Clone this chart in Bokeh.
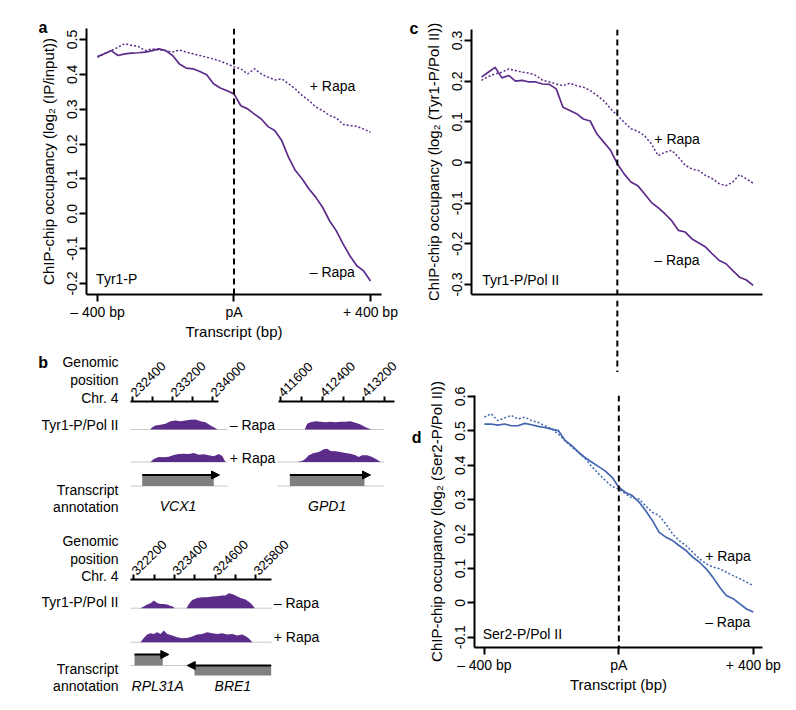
import math
from bokeh.plotting import figure
from bokeh.models import Range1d, LinearAxis, FixedTicker, Span, Title, Arrow, NormalHead
from bokeh.layouts import row, column
from bokeh.core.properties import value
from bokeh.embed import file_html
from bokeh.resources import INLINE

FONT = "Liberation Sans"
PURPLE = "#5b2c8a"
BLUE = "#4265b0"
GRAY_RECT = "#808080"
GRAY_LINE = "#c8c8c8"

# ---------------- metagene profiles (a, c, d) ----------------
transcript_bp = [-400, -380, -360, -340, -320, -300, -280, -260, -240, -220, -200,
                 -180, -160, -140, -120, -100, -80, -60, -40, -20, 0,
                 20, 40, 60, 80, 100, 120, 140, 160, 180, 200,
                 220, 240, 260, 280, 300, 320, 340, 360, 380, 400]

a_minus = [0.451, 0.459, 0.468, 0.454, 0.459, 0.461, 0.462, 0.464, 0.468, 0.473, 0.468,
           0.454, 0.430, 0.418, 0.416, 0.408, 0.399, 0.373, 0.361, 0.353, 0.344,
           0.310, 0.301, 0.286, 0.272, 0.250, 0.238, 0.210, 0.162, 0.124, 0.100,
           0.071, 0.047, 0.018, -0.020, -0.049, -0.087, -0.121, -0.149, -0.164, -0.193]
a_plus = [0.449, 0.459, 0.468, 0.478, 0.488, 0.483, 0.480, 0.468, 0.473, 0.470, 0.468,
          0.464, 0.470, 0.464, 0.459, 0.454, 0.449, 0.444, 0.438, 0.430, 0.422,
          0.416, 0.401, 0.416, 0.401, 0.392, 0.384, 0.387, 0.373, 0.358, 0.339,
          0.325, 0.306, 0.296, 0.282, 0.275, 0.256, 0.253, 0.251, 0.243, 0.234]

c_minus = [0.210, 0.222, 0.234, 0.208, 0.214, 0.200, 0.202, 0.198, 0.198, 0.193, 0.192,
           0.181, 0.136, 0.128, 0.120, 0.107, 0.102, 0.070, 0.050, 0.030, -0.003,
           -0.028, -0.048, -0.057, -0.077, -0.098, -0.111, -0.126, -0.143, -0.167, -0.171,
           -0.188, -0.198, -0.208, -0.225, -0.241, -0.249, -0.266, -0.282, -0.289, -0.302]
c_plus = [0.202, 0.211, 0.218, 0.222, 0.230, 0.226, 0.222, 0.220, 0.214, 0.202, 0.198,
          0.193, 0.189, 0.195, 0.189, 0.185, 0.177, 0.165, 0.152, 0.132, 0.116,
          0.099, 0.083, 0.077, 0.066, 0.046, 0.017, 0.025, 0.030, 0.013, -0.007,
          -0.016, -0.020, -0.032, -0.040, -0.052, -0.057, -0.048, -0.030, -0.040, -0.051]

d_minus = [0.520, 0.520, 0.517, 0.520, 0.515, 0.515, 0.522, 0.518, 0.513, 0.510, 0.505,
           0.501, 0.472, 0.457, 0.438, 0.422, 0.409, 0.396, 0.383, 0.365, 0.336,
           0.321, 0.312, 0.293, 0.268, 0.239, 0.205, 0.191, 0.181, 0.166, 0.152,
           0.133, 0.118, 0.099, 0.074, 0.045, 0.021, 0.012, -0.003, -0.018, -0.027]
d_plus = [0.540, 0.550, 0.530, 0.538, 0.545, 0.535, 0.540, 0.530, 0.525, 0.515, 0.506,
          0.491, 0.472, 0.453, 0.438, 0.419, 0.396, 0.375, 0.356, 0.338, 0.331,
          0.317, 0.305, 0.302, 0.282, 0.263, 0.254, 0.229, 0.200, 0.181, 0.166,
          0.147, 0.128, 0.113, 0.104, 0.099, 0.089, 0.079, 0.070, 0.060, 0.050]

x_ticks = [-400, 0, 400]
x_tick_labels = ["\u2013 400 bp", "pA", "+ 400 bp"]

a_yticks = [0.5, 0.4, 0.3, 0.2, 0.1, 0.0, -0.1, -0.2]
a_ylabels = ["0.5", "0.4", "0.3", "0.2", "0.1", "0.0", "-0.1", "-0.2"]
c_yticks = [0.3, 0.2, 0.1, 0.0, -0.1, -0.2, -0.3]
c_ylabels = ["0.3", "0.2", "0.1", "0", "-0.1", "-0.2", "-0.3"]
d_yticks = [0.6, 0.5, 0.4, 0.3, 0.2, 0.1, 0.0, -0.1]
d_ylabels = ["0.6", "0.5", "0.4", "0.3", "0.2", "0.1", "0", "-0.1"]

# ---------------- genome browser tracks (b) ----------------
l1_ticks = [232400, 232800, 233200, 233600, 234000]
l1_labeled = [232400, 233200, 234000]
l1_pos_minus = [232750, 232788, 232854, 232954, 233054, 233154, 233254, 233354, 233454,
                233554, 233654, 233754, 233854, 233954, 234054, 234100]
l1_sig_minus = [0, 2.3, 4, 4.7, 5.7, 8.3, 9, 8.3, 9, 9.7, 10, 8.3, 7.3, 4, 1.3, 0]
l1_pos_plus = [232754, 232820, 232920, 233020, 233120, 233220, 233320, 233420, 233520,
               233620, 233720, 233820, 233920, 234020, 234120, 234188, 234254]
l1_sig_plus = [0, 3, 5, 4.7, 5.3, 7, 8, 8.3, 8, 9, 7.3, 7.7, 6.7, 5.7, 8, 6, 0]

l2_ticks = [411600, 412000, 412400, 412800, 413200, 413600]
l2_labeled = [411600, 412400, 413200]
l2_pos_minus = [412067, 412112, 412176, 412272, 412368, 412464, 412560, 412656, 412752,
                412848, 412944, 413040, 413136, 413232, 413296, 413347]
l2_sig_minus = [0, 5.7, 7.3, 8.3, 7.7, 7.3, 7.7, 7.3, 7.7, 7.7, 8.3, 6.7, 5, 2.3, 1, 0]
l2_pos_plus = [411920, 412016, 412080, 412144, 412240, 412336, 412432, 412496, 412560,
               412656, 412752, 412848, 412944, 413040, 413104, 413168, 413264, 413360,
               413456, 413520]
l2_sig_plus = [0, 1, 3.3, 6.7, 9, 10, 12.7, 13.3, 11, 10.7, 10, 9, 8.3, 6.7, 5, 6.7,
               6.7, 5, 2.3, 0]

l3_ticks = [322200, 322800, 323400, 324000, 324600, 325200, 325800]
l3_labeled = [322200, 323400, 324600, 325800]
l3_pos_minus = [322398, 322495, 322595, 322693, 322790, 322890, 322988, 323085, 323185,
                323283, 323351, 323410, 323755, 323823, 323923, 324070, 324218, 324365,
                324513, 324660, 324808, 324905, 325003, 325103, 325200, 325348, 325495,
                325613, 325711, 325770]
l3_sig_minus = [0, 1.7, 3.7, 5, 7.7, 5.3, 4.3, 4.3, 3.7, 2.3, 1.7, 0, 0, 4.3, 8.3, 10.3,
                11, 11, 11.7, 12, 12.7, 12.7, 15, 14.3, 12.7, 10.3, 8.7, 6, 2.7, 0]
l3_pos_plus = [322398, 322495, 322595, 322693, 322790, 322890, 322988, 323085, 323185,
               323333, 323480, 323628, 323775, 323923, 324070, 324218, 324365, 324513,
               324660, 324808, 324955, 325103, 325250, 325398, 325516, 325613, 325693]
l3_sig_plus = [0, 4.3, 7.7, 9, 8.3, 10, 8.3, 11.7, 8.3, 6.7, 5, 4, 4.3, 5.7, 7.7, 8.3,
               10, 9, 8.3, 9, 7.7, 8.3, 6.7, 7.7, 5.7, 3.3, 0]

# genes: name, locus, start, end, strand, arrow tip
gene_names = ["VCX1", "GPD1", "RPL31A", "BRE1"]
gene_locus = ["l1", "l2", "l3", "l3"]
gene_start = [232588, 411779, 322221, 323991]
gene_end = [234020, 413213, 323056, 326253]
gene_strand = ["+", "+", "+", "-"]
gene_arrow_tip = [234134, 413328, 323233, 323775]


# ---------------- helpers ----------------
def base_fig(width, height, xr, yr, left, right, top, bottom):
    p = figure(width=width, height=height, x_range=xr, y_range=yr,
               x_axis_type=None, y_axis_type=None, output_backend="svg",
               toolbar_location=None, min_border_left=left, min_border_right=right,
               min_border_top=top, min_border_bottom=bottom, frame_align=False)
    p.outline_line_color = None
    p.background_fill_color = "white"
    p.border_fill_color = "white"
    return p


def style_axis(ax, size="14px"):
    ax.axis_line_width = 2
    ax.axis_line_color = "black"
    ax.major_tick_line_width = 2
    ax.major_tick_line_color = "black"
    ax.major_tick_out = 7
    ax.major_tick_in = 0
    ax.minor_tick_line_color = None
    ax.major_label_text_font = FONT
    ax.major_label_text_font_size = size
    ax.major_label_text_color = "black"
    ax.major_label_standoff = 2
    ax.axis_label_text_font = FONT
    ax.axis_label_text_font_size = "15px"
    ax.axis_label_text_font_style = "normal"
    ax.axis_label_text_color = "black"
    ax.axis_label_standoff = 8


def add_yaxis(p, ticks, labels, title):
    ax = LinearAxis(ticker=FixedTicker(ticks=ticks),
                    major_label_overrides=dict(zip(ticks, labels)),
                    axis_label=title, major_label_orientation="vertical")
    style_axis(ax)
    p.add_layout(ax, "left")


def add_xaxis(p, ticks, labels, title):
    ax = LinearAxis(ticker=FixedTicker(ticks=ticks),
                    major_label_overrides=dict(zip(ticks, labels)),
                    axis_label=title)
    style_axis(ax)
    ax.axis_label_standoff = 0
    if not ticks:
        ax.major_tick_out = 0
    p.add_layout(ax, "below")


def add_text(p, xs, ys, texts, align="left", size="14px", style="normal",
             x_range_name="default", x_offset=0):
    p.text(x=xs, y=ys, text=texts, text_font=value(FONT), text_font_size=size,
           text_font_style=style, text_align=align, text_baseline="middle",
           text_color="black", x_range_name=x_range_name, x_offset=x_offset)


def title_letter(p, letter, offset):
    p.add_layout(Title(text=letter, align="left", offset=offset, standoff=-14,
                       text_font=FONT, text_font_size="16px", text_font_style="bold",
                       text_color="black"), "above")


def axis_letter(p, y, letter, standoff):
    ax = LinearAxis(ticker=FixedTicker(ticks=[y]), major_label_overrides={y: letter},
                    major_label_orientation="horizontal")
    ax.axis_line_color = None
    ax.major_tick_line_color = None
    ax.minor_tick_line_color = None
    ax.major_tick_out = 0
    ax.major_tick_in = 0
    ax.major_label_standoff = standoff
    ax.major_label_text_font = FONT
    ax.major_label_text_font_size = "16px"
    ax.major_label_text_font_style = "bold"
    ax.major_label_text_color = "black"
    p.add_layout(ax, "left")


def dashed_pA(p):
    p.add_layout(Span(location=0, dimension="height", line_color="black",
                      line_dash="6 4", line_width=2))


# ---------------- panel a ----------------
pa = base_fig(408, 346, Range1d(-432.2, 432.3), Range1d(-0.2316, 0.5316), 86, 27, 28, 52)
add_yaxis(pa, a_yticks, a_ylabels, "ChIP-chip occupancy (log\u2082 (IP/input))")
add_xaxis(pa, x_ticks, x_tick_labels, "Transcript (bp)")
pa.line(transcript_bp, a_plus, line_color=PURPLE, line_width=1.5, line_dash="2 2")
pa.line(transcript_bp, a_minus, line_color=PURPLE, line_width=1.7)
dashed_pA(pa)
add_text(pa, [222], [0.366], ["+ Rapa"])
add_text(pa, [222], [-0.168], ["\u2013 Rapa"])
add_text(pa, [-404], [-0.186], ["Tyr1-P"])
title_letter(pa, "a", -48)

# ---------------- panel b ----------------
pb = base_fig(408, 364, Range1d(0, 408), Range1d(0, 364), 0, 0, 0, 0)
pb.extra_x_ranges = {
    "l1": Range1d(229754, 237914),
    "l2": Range1d(406224, 414057.6),
    "l3": Range1d(318267.65, 330303.65),
}

rows_layout = {
    # locus: (axis_y, minus_y, plus_y, annot_y, name_y, window, axis bounds)
    "l1": (309, 281, 248.5, 224.5, 205, (232354, 234294), (232354, 234114)),
    "l2": (309, 281, 248.5, 224.5, 205, (411542, 413578), (411562, 413786)),
    "l3": (130.7, 102.3, 68.3, 45, 25, (322103, 326262), (322103, 326253)),
}
tracks = {
    "l1": (l1_ticks, l1_labeled, l1_pos_minus, l1_sig_minus, l1_pos_plus, l1_sig_plus),
    "l2": (l2_ticks, l2_labeled, l2_pos_minus, l2_sig_minus, l2_pos_plus, l2_sig_plus),
    "l3": (l3_ticks, l3_labeled, l3_pos_minus, l3_sig_minus, l3_pos_plus, l3_sig_plus),
}

for rng, (ticks, labeled, pm, sm, pp, sp) in tracks.items():
    axis_y, minus_y, plus_y, annot_y, name_y, win, bounds = rows_layout[rng]
    ax = LinearAxis(x_range_name=rng, fixed_location=axis_y,
                    ticker=FixedTicker(ticks=ticks),
                    major_label_overrides={t: (str(t) if t in labeled else "") for t in ticks},
                    major_label_orientation=math.pi / 4, bounds=bounds)
    style_axis(ax, size="13px")
    ax.major_tick_out = 5
    ax.major_label_standoff = 2
    pb.add_layout(ax, "above")
    for base in (minus_y, plus_y, annot_y):
        pb.line(x=list(win), y=[base, base], x_range_name=rng,
                line_color=GRAY_LINE, line_width=1)
    pb.varea(x=pm, y1=[minus_y] * len(pm), y2=[minus_y + s for s in sm],
             fill_color=PURPLE, x_range_name=rng)
    pb.varea(x=pp, y1=[plus_y] * len(pp), y2=[plus_y + s for s in sp],
             fill_color=PURPLE, x_range_name=rng)

for name, rng, gs, ge, strand, tip in zip(gene_names, gene_locus, gene_start,
                                          gene_end, gene_strand, gene_arrow_tip):
    axis_y, minus_y, plus_y, annot_y, name_y, win, bounds = rows_layout[rng]
    if strand == "+":
        bottom, top, arrow_y, a0 = annot_y, annot_y + 10.5, annot_y + 11, gs
    else:
        bottom, top, arrow_y, a0 = annot_y - 10, annot_y, annot_y, ge
    pb.quad(left=[gs], right=[ge], bottom=[bottom], top=[top], x_range_name=rng,
            fill_color=GRAY_RECT, line_color=None)
    pb.add_layout(Arrow(end=NormalHead(size=8, fill_color="black", line_color="black",
                                       line_width=1),
                        x_start=a0, y_start=arrow_y, x_end=tip, y_end=arrow_y,
                        line_width=2, line_color="black", x_range_name=rng))
    add_text(pb, [(gs + ge) / 2], [name_y], [name], align="center", style="italic",
             x_range_name=rng, x_offset=(9 if name == "RPL31A" else 0))

add_text(pb, [42.7], [348.3], ["b"], align="center", size="16px", style="bold")
add_text(pb, [118] * 12,
         [348.3, 330.3, 313, 286, 221, 204, 169.3, 152, 134.3, 108.3, 42, 25],
         ["Genomic", "position", "Chr. 4", "Tyr1-P/Pol II", "Transcript", "annotation",
          "Genomic", "position", "Chr. 4", "Tyr1-P/Pol II", "Transcript", "annotation"],
         align="right")
add_text(pb, [229.3, 229.3, 273.3, 273.3], [286, 252.3, 107.3, 74],
         ["\u2013 Rapa", "+ Rapa", "\u2013 Rapa", "+ Rapa"])

# ---------------- panels c, d ----------------
xr_cd = Range1d(-429.4, 427.5)

pc = base_fig(388, 300, xr_cd, Range1d(-0.3246, 0.327), 63, 34, 29, 6)
add_yaxis(pc, c_yticks, c_ylabels, "ChIP-chip occupancy (log\u2082 (Tyr1-P/Pol II))")
add_xaxis(pc, [], [], None)
pc.line(transcript_bp, c_plus, line_color=PURPLE, line_width=1.5, line_dash="2 2")
pc.line(transcript_bp, c_minus, line_color=PURPLE, line_width=1.7)
dashed_pA(pc)
add_text(pc, [109], [0.058], ["+ Rapa"])
add_text(pc, [109], [-0.239], ["\u2013 Rapa"])
add_text(pc, [-398], [-0.290], ["Tyr1-P/Pol II"])
title_letter(pc, "c", -62)

ps = base_fig(388, 72, xr_cd, Range1d(0, 1), 63, 34, 0, 0)
dashed_pA(ps)

pd = base_fig(388, 338, xr_cd, Range1d(-0.130, 0.603), 63, 34, 23, 63)
add_yaxis(pd, d_yticks, d_ylabels, "ChIP-chip occupancy (log\u2082 (Ser2-P/Pol II))")
add_xaxis(pd, x_ticks, x_tick_labels, "Transcript (bp)")
pd.line(transcript_bp, d_plus, line_color=BLUE, line_width=1.5, line_dash="2 2")
pd.line(transcript_bp, d_minus, line_color=BLUE, line_width=1.7)
dashed_pA(pd)
add_text(pd, [257], [0.1375], ["+ Rapa"])
add_text(pd, [257], [-0.056], ["\u2013 Rapa"])
add_text(pd, [-405], [-0.090], ["Ser2-P/Pol II"])
axis_letter(pd, 0.481, "d", 3)

layout = row(column(pa, pb), column(pc, ps, pd))
open("out.html", "w").write(file_html(layout, INLINE))
